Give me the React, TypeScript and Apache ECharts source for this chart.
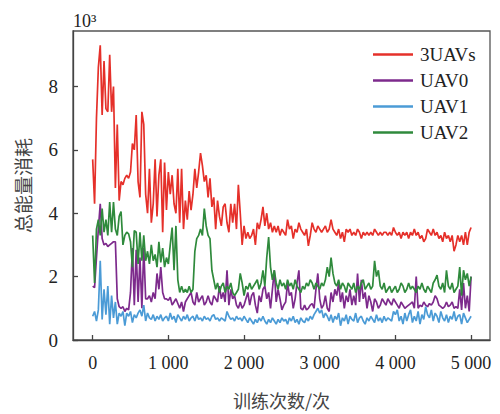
import React, { useEffect, useRef } from "react";
import * as echarts from "echarts";

const STEP = 25;
const SERIES_NAMES = ["3UAVs", "UAV0", "UAV1", "UAV2"];
const X_TICKS = [0, 1000, 2000, 3000, 4000, 5000];
const Y_TICKS = [0, 2, 4, 6, 8];

// values in 10^3, sampled every STEP iterations (0..5000)
const red = [
  5.7,4.3,7.0,8.6,9.3,7.1,8.8,7.3,7.2,9.0,7.2,8.0,4.8,6.8,4.4,5.0,4.9,5.1,5.2,5.1,
  5.3,6.2,6.0,7.1,5.0,4.5,7.2,6.8,4.6,4.0,5.4,3.7,4.3,5.7,3.9,5.2,5.7,3.4,5.6,4.1,
  5.3,4.6,5.2,4.3,4.0,5.4,3.7,5.4,3.5,4.4,3.8,4.7,4.1,4.6,5.4,4.8,5.3,5.9,5.5,5.0,
  5.2,4.5,5.1,4.2,4.5,3.5,4.4,3.9,3.6,4.2,4.3,3.7,3.4,4.3,3.7,4.3,3.5,4.9,4.0,3.0,
  3.6,3.2,3.4,3.2,3.3,3.5,3.0,3.7,3.5,3.8,4.2,3.6,4.0,3.5,3.7,3.4,3.6,3.4,3.6,3.3,
  3.5,3.4,3.3,3.8,3.5,3.6,3.2,3.5,3.4,3.7,3.5,3.4,3.3,3.5,2.97,3.3,3.7,3.5,3.4,3.6,
  3.5,3.4,3.5,3.6,3.4,3.5,3.8,3.5,3.4,3.3,3.5,3.2,3.4,3.1,3.5,3.4,3.5,3.3,3.4,3.3,
  3.5,3.4,3.2,3.4,3.3,3.4,3.3,3.4,3.3,3.5,3.4,3.3,3.4,3.3,3.4,3.4,3.3,3.4,3.3,3.55,
  3.4,3.3,3.4,3.2,3.4,3.3,3.4,3.2,3.4,3.3,3.5,3.3,3.4,3.2,3.3,3.1,3.2,3.5,3.4,3.3,
  3.5,3.3,3.4,3.2,3.3,3.1,3.4,3.2,3.3,3.1,3.3,2.8,3.0,3.3,3.1,3.3,3.0,3.4,3.0,3.4,
  3.55,
];
const purple = [
  1.7,1.65,2.6,3.5,4.3,3.2,3.0,3.05,2.95,3.0,3.05,3.1,3.1,1.3,1.05,1.0,1.05,0.9,1.0,0.95,
  1.5,2.9,1.1,2.85,1.2,2.6,1.0,2.9,1.3,1.3,1.4,1.2,1.5,1.3,2.1,1.6,2.3,1.5,1.3,1.3,
  1.25,1.35,1.1,1.2,1.3,1.15,1.0,1.2,0.9,1.2,1.3,1.4,1.5,1.2,1.1,1.5,1.2,1.3,1.4,1.1,
  1.2,1.4,1.2,1.1,1.4,1.3,1.2,1.7,1.3,1.5,1.2,2.2,1.1,1.6,1.3,1.4,1.1,1.0,1.2,1.0,
  1.1,1.3,1.5,1.1,1.4,1.5,1.1,0.85,1.4,1.2,1.6,1.7,1.3,1.5,1.0,1.6,2.2,1.2,1.6,1.3,
  0.95,1.1,1.2,1.8,1.4,1.5,1.0,1.3,1.8,2.2,1.0,0.95,1.1,0.95,1.0,1.1,1.15,1.0,1.6,2.1,
  1.3,1.0,1.1,1.4,1.0,0.9,1.5,1.2,1.6,1.4,1.8,1.2,1.5,1.0,1.4,1.2,1.6,1.1,1.4,1.1,
  2.1,1.2,1.9,1.3,1.5,1.0,1.4,1.2,0.9,1.3,1.2,1.0,1.1,1.3,1.2,1.1,1.3,1.2,1.1,1.3,
  1.2,1.1,1.0,1.2,1.1,1.0,1.05,1.1,1.15,1.2,1.0,2.0,1.0,1.1,1.05,1.2,1.1,1.05,1.15,1.1,
  1.2,1.4,1.3,1.1,1.05,1.0,1.05,1.2,1.05,1.1,1.2,1.0,1.05,1.0,1.6,0.95,1.8,1.0,1.4,0.9,
  2.0,
];
const blue = [
  0.75,0.9,0.6,0.95,2.5,0.65,1.6,0.8,1.7,0.5,1.4,0.7,1.2,0.5,0.85,0.75,0.9,0.45,0.85,0.75,
  0.9,0.55,0.8,0.7,0.85,0.95,0.75,1.1,0.6,0.85,0.7,0.65,0.8,0.6,0.75,0.65,0.8,0.6,0.7,0.75,
  0.6,0.85,0.65,0.75,0.55,0.8,0.7,0.6,0.75,0.65,0.8,0.6,0.7,0.75,0.6,0.8,0.65,0.7,0.6,0.75,
  0.65,0.7,0.6,0.75,0.8,0.65,0.7,0.6,0.7,0.65,0.6,0.9,0.75,0.65,0.7,0.6,0.75,0.65,0.7,0.6,
  0.75,0.65,0.55,0.7,0.6,0.5,0.65,0.55,0.7,0.6,0.75,0.6,0.5,0.65,0.55,0.7,0.6,0.5,0.65,0.55,
  0.7,0.6,0.65,0.5,0.7,0.6,0.75,0.55,0.65,0.5,0.7,0.6,0.55,0.7,0.6,0.75,0.65,0.8,0.9,1.0,
  0.85,0.95,0.7,0.85,0.75,0.6,0.8,0.55,0.75,0.65,0.85,0.45,0.7,0.6,0.8,0.5,0.75,0.65,0.6,0.85,
  0.55,0.7,0.75,0.6,0.5,0.7,0.6,0.75,0.65,0.55,0.8,0.6,0.7,0.55,0.75,0.6,0.7,0.65,0.6,0.9,
  0.8,0.95,0.6,0.75,0.5,0.85,0.6,0.8,0.95,0.55,0.75,0.6,0.9,0.5,0.8,0.65,1.05,0.8,0.7,0.95,
  0.6,0.85,0.75,0.55,0.9,0.7,0.6,0.8,0.55,0.75,0.65,0.9,0.6,0.75,0.8,0.5,0.85,0.7,0.55,0.65,
  0.75,
];
const green = [
  3.3,1.8,3.5,3.8,3.3,4.15,3.4,3.8,3.3,4.35,3.4,4.35,3.5,3.3,3.9,4.05,3.0,3.3,3.4,3.35,
  3.1,2.3,3.45,3.4,2.4,3.4,2.5,3.3,2.5,2.8,2.4,3.0,2.5,2.7,2.3,3.1,2.45,2.9,2.3,2.6,
  2.4,3.0,3.55,2.2,3.6,1.9,1.5,1.7,1.5,1.6,1.5,1.7,1.5,1.6,2.8,3.2,3.3,3.5,3.3,4.15,
  3.6,3.3,3.2,2.2,1.9,1.6,1.8,1.5,1.7,1.8,1.5,1.7,1.6,1.8,1.5,1.4,1.5,1.6,2.1,1.8,
  1.4,1.7,1.6,1.8,1.6,1.7,1.8,1.9,1.6,1.8,2.2,1.7,2.6,3.25,2.3,1.9,2.2,1.8,1.6,1.9,
  1.7,1.8,1.6,1.9,1.7,1.8,1.6,1.9,1.7,1.6,1.5,1.7,1.6,1.8,1.7,1.9,1.8,1.6,1.8,1.7,
  1.6,1.8,1.7,1.9,2.3,2.0,2.6,2.1,1.8,1.7,1.9,1.6,1.8,1.7,1.5,1.8,1.7,1.6,1.8,1.5,
  1.7,1.6,1.8,1.9,1.6,1.7,1.8,1.6,1.7,2.5,2.0,2.2,1.7,1.6,1.8,1.5,1.6,1.7,1.5,1.6,
  1.7,1.5,1.6,1.8,1.7,1.5,1.6,1.8,1.6,1.7,1.6,1.5,1.7,1.6,1.8,1.6,1.5,1.7,1.6,1.5,
  1.8,1.9,2.05,1.7,1.6,1.8,1.5,2.2,1.7,1.6,1.8,1.5,1.6,1.7,2.3,1.4,2.2,1.9,2.1,1.7,
  2.0,
];

const COLORS = ["#e5302a", "#7d2a8c", "#4b9bd6", "#2f8a3c"];
const SERIF = "'Liberation Serif', 'Times New Roman', serif";
const CJK = "'Noto Sans CJK SC', sans-serif";

export default function App() {
  const ref = useRef<HTMLDivElement>(null);
  useEffect(() => {
    document.body.style.margin = "0";
    if (!ref.current) return;
    const chart = echarts.init(ref.current, null, { renderer: "svg" });
    const all = [red, purple, blue, green];
    const axisLine = { show: true, onZero: false, lineStyle: { color: "#444", width: 1.3 } };
    chart.setOption({
      animation: false,
      backgroundColor: "#fff",
      grid: {
        left: 73, right: 10, top: 31, bottom: 65,
        show: true, borderColor: "#555", borderWidth: 1.3, backgroundColor: "transparent",
      },
      legend: {
        orient: "vertical",
        left: 368,
        top: 40,
        icon: "rect",
        itemWidth: 40,
        itemHeight: 2.5,
        itemGap: 7,
        data: SERIES_NAMES,
        textStyle: { fontFamily: SERIF, fontSize: 19, color: "#222", lineHeight: 19, padding: [0, 0, 0, 2] },
      },
      graphic: [
        {
          type: "text", left: 73, top: 12,
          style: { text: "10³", font: `18px ${SERIF}`, fill: "#222" },
        },
      ],
      xAxis: {
        type: "value",
        min: -260,
        max: 5250,
        splitLine: { show: false },
        axisLine,
        axisTick: { show: true, inside: true, length: 5, customValues: X_TICKS, lineStyle: { color: "#444", width: 1.3 } },
        axisLabel: {
          customValues: X_TICKS,
          margin: 14,
          fontFamily: SERIF,
          fontSize: 18,
          color: "#222",
          formatter: (v: number) => (v === 0 ? "0" : `${v / 1000} 000`),
        },
        name: "训练次数/次",
        nameLocation: "middle",
        nameGap: 51,
        nameTextStyle: { fontFamily: CJK, fontSize: 18, color: "#444" },
      },
      yAxis: {
        type: "value",
        min: 0,
        max: 9.75,
        splitLine: { show: false },
        axisLine,
        axisTick: { show: true, inside: true, length: 5, customValues: Y_TICKS, lineStyle: { color: "#444", width: 1.3 } },
        axisLabel: {
          customValues: Y_TICKS,
          margin: 15,
          fontFamily: SERIF,
          fontSize: 19,
          color: "#222",
        },
        name: "总能量消耗",
        nameLocation: "middle",
        nameGap: 41,
        nameTextStyle: { fontFamily: CJK, fontSize: 19, color: "#444" },
      },
      series: SERIES_NAMES.map((n, k) => ({
        name: n,
        type: "line",
        symbol: "none",
        showSymbol: false,
        color: COLORS[k],
        lineStyle: { width: 1.7, color: COLORS[k] },
        data: all[k].map((v, i) => [i * STEP, v]),
      })),
    });
    return () => chart.dispose();
  }, []);
  return <div ref={ref} style={{ width: 500, height: 414 }} />;
}
